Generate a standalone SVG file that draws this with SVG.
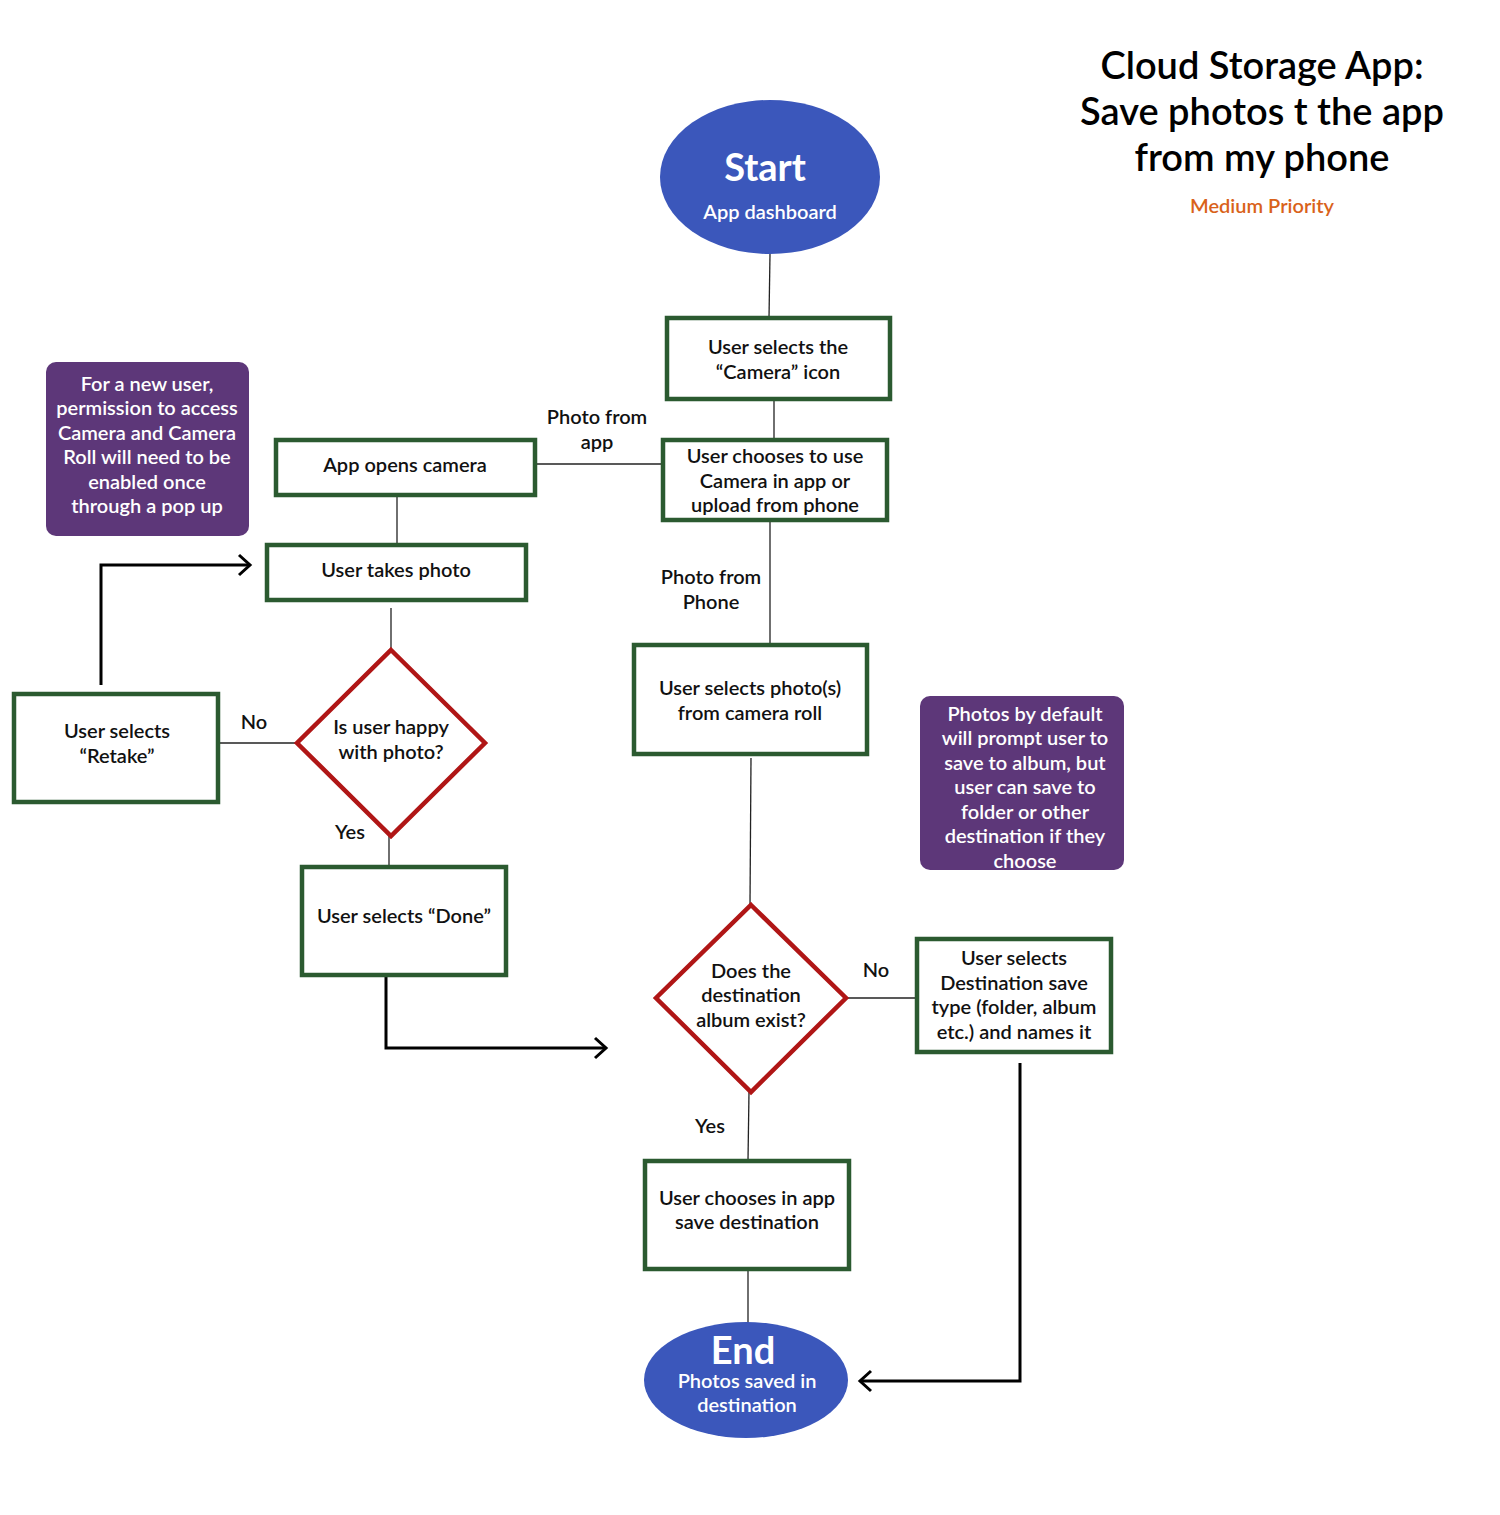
<svg xmlns="http://www.w3.org/2000/svg" width="1500" height="1515" viewBox="0 0 1500 1515">
<defs>
<marker id="chev" markerWidth="20" markerHeight="24" refX="17" refY="12" orient="auto" markerUnits="userSpaceOnUse">
<path d="M6,2 L17,12 L6,22" fill="none" stroke="#000" stroke-width="3"/>
</marker>
<style>
text{font-family:Lato,"Open Sans","Liberation Sans",sans-serif;text-anchor:middle;font-weight:600}
.t{font-size:20px;fill:#111}
.w{font-size:20px;fill:#fff}
.big{font-size:38px;fill:#fff;font-weight:700}
.title{font-size:38px;fill:#000}
.box{fill:#fff;stroke:#2b5a30;stroke-width:4.5}
.dia{fill:#fff;stroke:#b01616;stroke-width:4.5}
.oval{fill:#3b57bb}
.note{fill:#5d3779}
.ln{stroke:#222;stroke-width:1.3;fill:none}
.arr{stroke:#000;stroke-width:3;fill:none;marker-end:url(#chev)}
</style>
</defs>
<rect width="1500" height="1515" fill="#fff"/>

<g id="title">
<text class="title" x="1262" y="79">Cloud Storage App:</text>
<text class="title" x="1262" y="125">Save photos t the app</text>
<text class="title" x="1262" y="171">from my phone</text>
<text x="1262" y="213" style="font-size:20px;fill:#d9621a">Medium Priority</text>
</g>

<g id="connectors">
<path class="ln" d="M770,254 L769,318"/>
<path class="ln" d="M774,400 L774,440"/>
<path class="ln" d="M663,464 L535,464"/>
<path class="ln" d="M397,495 L397,545"/>
<path class="ln" d="M391,608 L391,650"/>
<path class="ln" d="M297,743 L219,743"/>
<path class="arr" d="M101,685 L101,565 L250,565"/>
<path class="ln" d="M389,836 L389,867"/>
<path class="arr" d="M386,975 L386,1048 L606,1048"/>
<path class="ln" d="M770,520 L770,645"/>
<path class="ln" d="M751,758 L750,905"/>
<path class="ln" d="M846,998 L916,998"/>
<path class="arr" d="M1020,1063 L1020,1381 L860,1381"/>
<path class="ln" d="M749,1092 L748,1160"/>
<path class="ln" d="M748,1269 L748,1323"/>
<text class="t" x="597" y="424">Photo from</text>
<text class="t" x="597" y="449">app</text>
<text class="t" x="711" y="584">Photo from</text>
<text class="t" x="711" y="609">Phone</text>
<text class="t" x="254" y="729">No</text>
<text class="t" x="350" y="839">Yes</text>
<text class="t" x="876" y="977">No</text>
<text class="t" x="710" y="1133">Yes</text>
</g>

<g id="start">
<ellipse class="oval" cx="770" cy="177" rx="110" ry="77"/>
<text class="big" x="765" y="181">Start</text>
<text class="w" x="770" y="219">App dashboard</text>
</g>

<g id="select-camera">
<rect class="box" x="667" y="318" width="223" height="81"/>
<text class="t" x="778" y="354">User selects the</text>
<text class="t" x="778" y="379">“Camera” icon</text>
</g>

<g id="choose-source">
<rect class="box" x="663" y="440" width="224" height="80"/>
<text class="t" x="775" y="463">User chooses to use</text>
<text class="t" x="775" y="488">Camera in app or</text>
<text class="t" x="775" y="512">upload from phone</text>
</g>

<g id="app-opens-camera">
<rect class="box" x="276" y="440" width="259" height="55"/>
<text class="t" x="405" y="472">App opens camera</text>
</g>

<g id="note-permission">
<rect class="note" x="46" y="362" width="203" height="174" rx="10"/>
<text class="w" x="147" y="391">For a new user,</text>
<text class="w" x="147" y="415">permission to access</text>
<text class="w" x="147" y="440">Camera and Camera</text>
<text class="w" x="147" y="464">Roll will need to be</text>
<text class="w" x="147" y="489">enabled once</text>
<text class="w" x="147" y="513">through a pop up</text>
</g>

<g id="takes-photo">
<rect class="box" x="267" y="545" width="259" height="55"/>
<text class="t" x="396" y="577">User takes photo</text>
</g>

<g id="happy-decision">
<polygon class="dia" points="391,650 485,743 391,836 297,743"/>
<text class="t" x="391" y="734">Is user happy</text>
<text class="t" x="391" y="759">with photo?</text>
</g>

<g id="retake">
<rect class="box" x="14" y="694" width="204" height="108"/>
<text class="t" x="117" y="738">User selects</text>
<text class="t" x="117" y="763">“Retake”</text>
</g>

<g id="done">
<rect class="box" x="302" y="867" width="204" height="108"/>
<text class="t" x="404" y="923">User selects “Done”</text>
</g>

<g id="select-photos">
<rect class="box" x="634" y="645" width="233" height="109"/>
<text class="t" x="750" y="695">User selects photo(s)</text>
<text class="t" x="750" y="720">from camera roll</text>
</g>

<g id="note-default">
<rect class="note" x="920" y="696" width="204" height="174" rx="10"/>
<text class="w" x="1025" y="721">Photos by default</text>
<text class="w" x="1025" y="745">will prompt user to</text>
<text class="w" x="1025" y="770">save to album, but</text>
<text class="w" x="1025" y="794">user can save to</text>
<text class="w" x="1025" y="819">folder or other</text>
<text class="w" x="1025" y="843">destination if they</text>
<text class="w" x="1025" y="868">choose</text>
</g>

<g id="album-decision">
<polygon class="dia" points="751,905 846,998 751,1092 656,998"/>
<text class="t" x="751" y="978">Does the</text>
<text class="t" x="751" y="1002">destination</text>
<text class="t" x="751" y="1027">album exist?</text>
</g>

<g id="destination-type">
<rect class="box" x="917" y="939" width="194" height="113"/>
<text class="t" x="1014" y="965">User selects</text>
<text class="t" x="1014" y="990">Destination save</text>
<text class="t" x="1014" y="1014">type (folder, album</text>
<text class="t" x="1014" y="1039">etc.) and names it</text>
</g>

<g id="choose-destination">
<rect class="box" x="645" y="1161" width="204" height="108"/>
<text class="t" x="747" y="1205">User chooses in app</text>
<text class="t" x="747" y="1229">save destination</text>
</g>

<g id="end">
<ellipse class="oval" cx="746" cy="1380" rx="102" ry="58"/>
<text class="big" x="743" y="1364">End</text>
<text class="w" x="747" y="1388">Photos saved in</text>
<text class="w" x="747" y="1412">destination</text>
</g>
</svg>
